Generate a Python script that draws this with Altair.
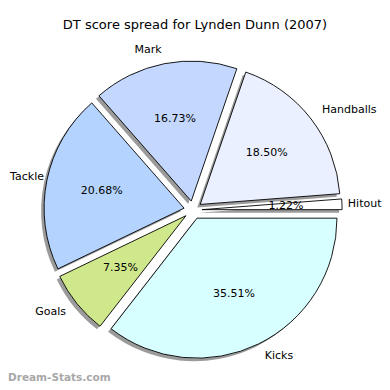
import altair as alt
import pandas as pd

categories = ["Hitout", "Handballs", "Mark", "Tackle", "Goals", "Kicks"]
values = [1.22, 18.50, 16.73, 20.68, 7.35, 35.51]
colors = ["#ffffff", "#eaf0ff", "#c4d8ff", "#b4d4ff", "#d0e88c", "#d8ffff"]
order = [0, 1, 2, 3, 4, 5]
title_text = "DT score spread for Lynden Dunn (2007)"
watermark = "Dream-Stats.com"

df = pd.DataFrame({"cat": categories, "value": values, "color": colors, "idx": order})

W = 374
H = 374
R = 140.0
cx, cy = 185.0, 202.0
EXPLODE = 0.065
XMIN = -cx / R
XMAX = (W - cx) / R

xs = alt.Scale(domain=[XMIN, XMAX], range=[0, W])
ys = alt.Scale(domain=[-(H - cy) / R, cy / R], range=[H, 0])

base = alt.Chart(df).transform_joinaggregate(
    total="sum(value)"
).transform_window(
    cum="sum(value)", sort=[alt.SortField("idx")], frame=[None, 0]
).transform_calculate(
    a1="2*PI*(datum.cum - datum.value)/datum.total",
    a2="2*PI*datum.cum/datum.total",
).transform_calculate(
    mid="(datum.a1 + datum.a2)/2",
    th="PI/2 - datum.a2",
    th2="PI/2 - datum.a1",
).transform_calculate(
    ex=f"{EXPLODE}*cos(datum.mid)",
    ey=f"{EXPLODE}*sin(datum.mid)",
).transform_calculate(
    lx0="datum.ex + 1.1*cos(datum.mid)",
    ly="datum.ey + 1.1*sin(datum.mid)",
    px="datum.ex + 0.6*cos(datum.mid)",
    py="datum.ey + 0.6*sin(datum.mid)",
    pct="format(datum.value, '.2f') + '%'",
).transform_calculate(
    # keep side labels inside the drawing area
    lx=(f"cos(datum.mid) >= 0 ? min(datum.lx0, {XMAX} - length(datum.cat)*5.7/{R})"
        f" : max(datum.lx0, {XMIN} + length(datum.cat)*6.0/{R})")
)

enc_center = dict(
    x=alt.X("ex:Q", scale=xs, axis=None),
    y=alt.Y("ey:Q", scale=ys, axis=None),
    theta=alt.Theta("th:Q", scale=None),
    theta2=alt.Theta2("th2:Q"),
)

shadow = base.mark_arc(radius=R, xOffset=-3, yOffset=3, color="#909090", opacity=0.9).encode(**enc_center)

wedges = base.mark_arc(radius=R, stroke="#000000", strokeWidth=0.9).encode(
    fill=alt.Color("color:N", scale=None), **enc_center
)

font = "DejaVu Sans"
lab_right = base.transform_filter("cos(datum.mid) >= 0").mark_text(
    align="left", baseline="middle", font=font, fontSize=11, color="#000000"
).encode(x=alt.X("lx:Q", scale=xs), y=alt.Y("ly:Q", scale=ys), text="cat:N")
lab_left = base.transform_filter("cos(datum.mid) < 0").mark_text(
    align="right", baseline="middle", font=font, fontSize=11, color="#000000"
).encode(x=alt.X("lx:Q", scale=xs), y=alt.Y("ly:Q", scale=ys), text="cat:N")
pcts = base.mark_text(
    align="center", baseline="middle", font=font, fontSize=11, color="#000000"
).encode(x=alt.X("px:Q", scale=xs), y=alt.Y("py:Q", scale=ys), text="pct:N")

title = alt.Chart(pd.DataFrame({"t": [title_text]})).mark_text(
    align="center", baseline="middle", font=font, fontSize=13, color="#000000"
).encode(x=alt.value(187), y=alt.value(17), text="t:N")

wm = alt.Chart(pd.DataFrame({"t": [watermark]})).mark_text(
    align="left", baseline="alphabetic", font=font, fontSize=10.5, fontWeight="bold", color="#a8a8a8"
).encode(x=alt.value(0), y=alt.value(373), text="t:N")

chart = alt.layer(shadow, wedges, lab_right, lab_left, pcts, title, wm).properties(
    width=W, height=H, autosize=alt.AutoSizeParams(type="none"), padding=0
).configure_view(stroke=None)

chart.save("out.html", embed_options={"renderer": "svg", "actions": False})
